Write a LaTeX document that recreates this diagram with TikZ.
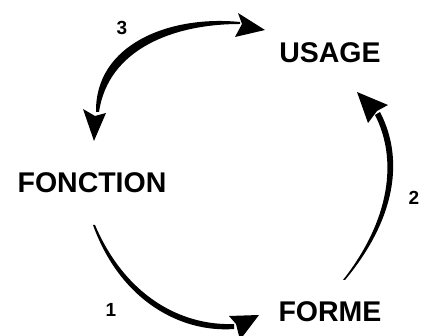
\documentclass[tikz,border=0pt]{standalone}
\usepackage{fontspec}
\setmainfont{Liberation Sans}
\usetikzlibrary{calc,positioning}
\tikzset{
  mot/.style={font=\fontsize{28.5}{31}\selectfont\bfseries, inner sep=0pt},
  num/.style={font=\fontsize{19}{21}\selectfont\bfseries, inner sep=0pt},
  brush/.style={fill=black, draw=none},
}
\begin{document}
\begin{tikzpicture}[x=1pt,y=-1pt]
  \useasboundingbox (0,0) rectangle (426,336);
  %\draw[color=gray,step=10, help lines,opacity=0.3] (0,0) grid (426,336); %help grid
  % the three words
  \node[mot] (usage) at (330,53) {USAGE};
  \node[mot] (fonction) at (92,182.5) {FONCTION};
  \node[mot] (forme) at (330,312) {FORME};
  % the numbers
  \node[num] (n3) at (122,28) {3};
  \node[num] (n2) at (414,198) {2};
  \node[num] (n1) at (111,310) {1};
  % ends of the arrows
  \coordinate (A3) at (96,112);
  \coordinate (B3) at (240,23);
  \coordinate (A1) at (93,225);
  \coordinate (B1) at (234,326);
  \coordinate (A2) at (345,280);
  \coordinate (B2) at (379,112);
  % arrow 3 (both ways)
  \fill[brush] (A3) .. controls (95,44) and (170,15) .. ($(B3)+(0,-1)$)
    -- ($(B3)+(0,1)$) .. controls (172,24) and (108,50) .. ($(A3)+(3,0)$) -- cycle;
  \fill[brush] (83,109) -- (95,116) -- (106,113) -- (94,141) -- cycle;
  \fill[brush] (238,13) -- (265,30) -- (235,37) -- (242,24) -- cycle;
  % arrow 1
  \fill[brush] (A1) .. controls (120,300) and (180,333) .. ($(B1)+(0,3)$)
    -- ($(B1)+(0,-2)$) .. controls (180,326) and (125,295) .. ($(A1)+(2,0)$) -- cycle;
  \fill[brush] (229,316) -- (259,315) -- (240,340) -- (236,324) -- cycle;
  % arrow 2
  \fill[brush] (A2) .. controls (395,220) and (405,160) .. ($(B2)+(1,0)$)
    -- ($(B2)+(-4,3)$) .. controls (398,160) and (390,220) .. ($(A2)+(-2,0)$) -- cycle;
  \fill[brush] (357,92) -- (388,105) -- (377,111) -- (368,123) -- cycle;
\end{tikzpicture}
\end{document}
